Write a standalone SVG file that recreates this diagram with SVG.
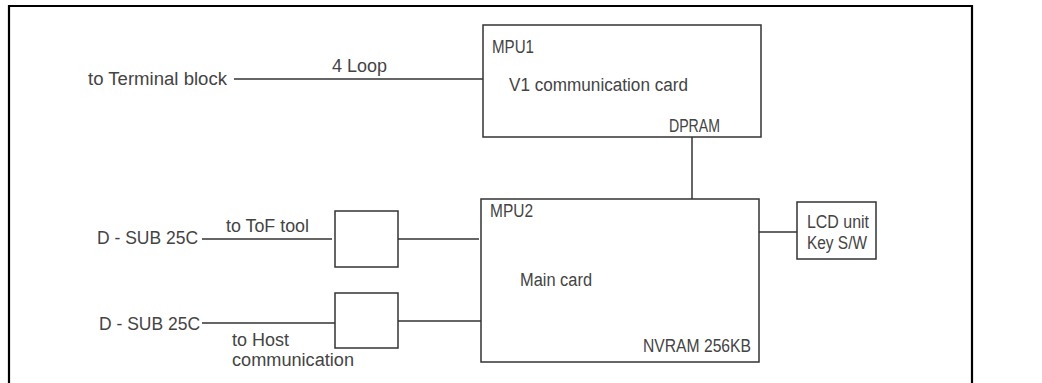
<svg xmlns="http://www.w3.org/2000/svg" width="1042" height="383" viewBox="0 0 1042 383">
<style>
.box{fill:#fff;stroke:#333;stroke-width:1.5}
.ln{stroke:#333;stroke-width:1.5;fill:none}
.frame{stroke:#000;stroke-width:2.2;fill:none}
text{font-family:"Liberation Sans",Arial,sans-serif;font-size:18px;fill:#444}
</style>
<rect width="1042" height="383" fill="#fff"/>
<path class="frame" d="M9,384 V6 H972 V384"/>
<g id="connectors">
<line class="ln" x1="234" y1="79" x2="483" y2="79"/>
<line class="ln" x1="692" y1="137" x2="692" y2="199"/>
<line class="ln" x1="202" y1="239" x2="332" y2="239"/>
<line class="ln" x1="398" y1="239" x2="479" y2="239"/>
<line class="ln" x1="202" y1="323" x2="335" y2="323"/>
<line class="ln" x1="398" y1="321" x2="481" y2="321"/>
<line class="ln" x1="759" y1="232" x2="797" y2="232"/>
<text x="332" y="72" textLength="55" lengthAdjust="spacingAndGlyphs">4 Loop</text>
<text x="226" y="232" textLength="83" lengthAdjust="spacingAndGlyphs">to ToF tool</text>
<text x="232" y="346" textLength="57" lengthAdjust="spacingAndGlyphs">to Host</text>
<text x="232" y="366" textLength="122" lengthAdjust="spacingAndGlyphs">communication</text>
</g>
<g id="terminal">
<text x="88" y="85" textLength="139" lengthAdjust="spacingAndGlyphs">to Terminal block</text>
</g>
<g id="dsub1">
<text x="97" y="244" textLength="101" lengthAdjust="spacingAndGlyphs">D - SUB 25C</text>
</g>
<g id="dsub2">
<text x="99" y="330" textLength="101" lengthAdjust="spacingAndGlyphs">D - SUB 25C</text>
</g>
<g id="mpu1">
<rect class="box" x="483" y="25" width="278" height="112"/>
<text x="492" y="53" textLength="42" lengthAdjust="spacingAndGlyphs">MPU1</text>
<text x="509" y="91" textLength="179" lengthAdjust="spacingAndGlyphs">V1 communication card</text>
<text x="669" y="132" textLength="51" lengthAdjust="spacingAndGlyphs">DPRAM</text>
</g>
<g id="mpu2">
<rect class="box" x="481" y="199" width="278" height="163"/>
<text x="490" y="217" textLength="43" lengthAdjust="spacingAndGlyphs">MPU2</text>
<text x="520" y="286" textLength="72" lengthAdjust="spacingAndGlyphs">Main card</text>
<text x="643" y="352" textLength="108" lengthAdjust="spacingAndGlyphs">NVRAM 256KB</text>
</g>
<g id="box1">
<rect class="box" x="335" y="211" width="63" height="56"/>
</g>
<g id="box2">
<rect class="box" x="335" y="293" width="63" height="55"/>
</g>
<g id="lcd">
<rect class="box" x="797" y="202" width="79" height="57"/>
<text x="807" y="228" textLength="62" lengthAdjust="spacingAndGlyphs">LCD unit</text>
<text x="807" y="249" textLength="60" lengthAdjust="spacingAndGlyphs">Key S/W</text>
</g>
</svg>
